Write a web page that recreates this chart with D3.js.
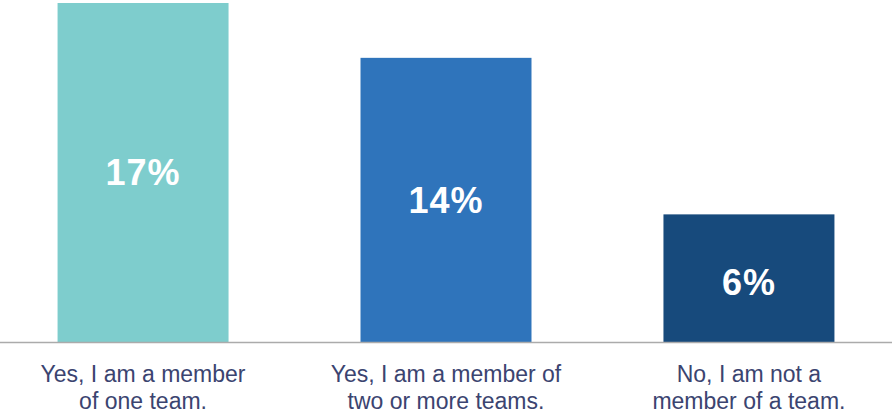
<!DOCTYPE html>
<html>
<head>
<meta charset="utf-8">
<script src="https://cdn.jsdelivr.net/npm/d3@7"></script>
<style>
  body { margin: 0; background: #fff; }
  svg { display: block; }
</style>
</head>
<body>
<div id="chart"></div>
<script>
  // Chart data
  var categories = ["one", "two", "none"],
      labelLines = [
        ["Yes, I am a member", "of one team."],
        ["Yes, I am a member of", "two or more teams."],
        ["No, I am not a", "member of a team."]
      ],
      values = [17, 14.25, 6.4],
      barColors = ["#7ecdcd", "#2f74bb", "#174a7c"];

  var width = 892,
      height = 415,
      baseline = 342,
      plotTop = 3;

  var svg = d3.select("#chart").append("svg")
    .attr("width", width)
    .attr("height", height);

  var x = d3.scaleBand()
    .domain(categories)
    .range([0, width])
    .paddingInner(0.4356)
    .paddingOuter(0.19);

  var y = d3.scaleLinear()
    .domain([0, 17])
    .range([baseline, plotTop]);

  // Bars
  svg.selectAll("rect.bar")
    .data(values)
  .enter().append("rect")
    .attr("class", "bar")
    .attr("x", function(d, i) { return x(categories[i]); })
    .attr("width", x.bandwidth())
    .attr("y", function(d) { return y(d); })
    .attr("height", function(d) { return baseline - y(d); })
    .attr("fill", function(d, i) { return barColors[i]; });

  // Baseline
  svg.append("line")
    .attr("x1", 0)
    .attr("x2", width)
    .attr("y1", baseline + 0.5)
    .attr("y2", baseline + 0.5)
    .attr("stroke", "#ababab")
    .attr("stroke-width", 1.6);

  // Value labels
  svg.selectAll("text.value")
    .data(values)
  .enter().append("text")
    .attr("class", "value")
    .attr("x", function(d, i) { return x(categories[i]) + x.bandwidth() / 2; })
    .attr("y", function(d, i) { return (y(d) + baseline) / 2 + (i === 2 ? 4 : 0); })
    .attr("dy", "0.36em")
    .attr("text-anchor", "middle")
    .style("font-family", "'Liberation Sans', Arial, sans-serif")
    .style("font-weight", "bold")
    .style("font-size", "36px")
    .style("letter-spacing", "1px")
    .style("fill", "#fff")
    .text(function(d) { return Math.round(d) + "%"; });

  // Category labels
  var cat = svg.selectAll("text.cat")
    .data(labelLines)
  .enter().append("text")
    .attr("class", "cat")
    .attr("text-anchor", "middle")
    .style("font-family", "'Liberation Sans', Arial, sans-serif")
    .style("font-size", "23px")
    .style("fill", "#3b4470");

  cat.selectAll("tspan")
    .data(function(d, i) { return d.map(function(t) { return {t: t, i: i}; }); })
  .enter().append("tspan")
    .attr("x", function(d) { return x(categories[d.i]) + x.bandwidth() / 2; })
    .attr("y", function(d, j) { return 382 + j * 27; })
    .text(function(d) { return d.t; });
</script>
</body>
</html>
